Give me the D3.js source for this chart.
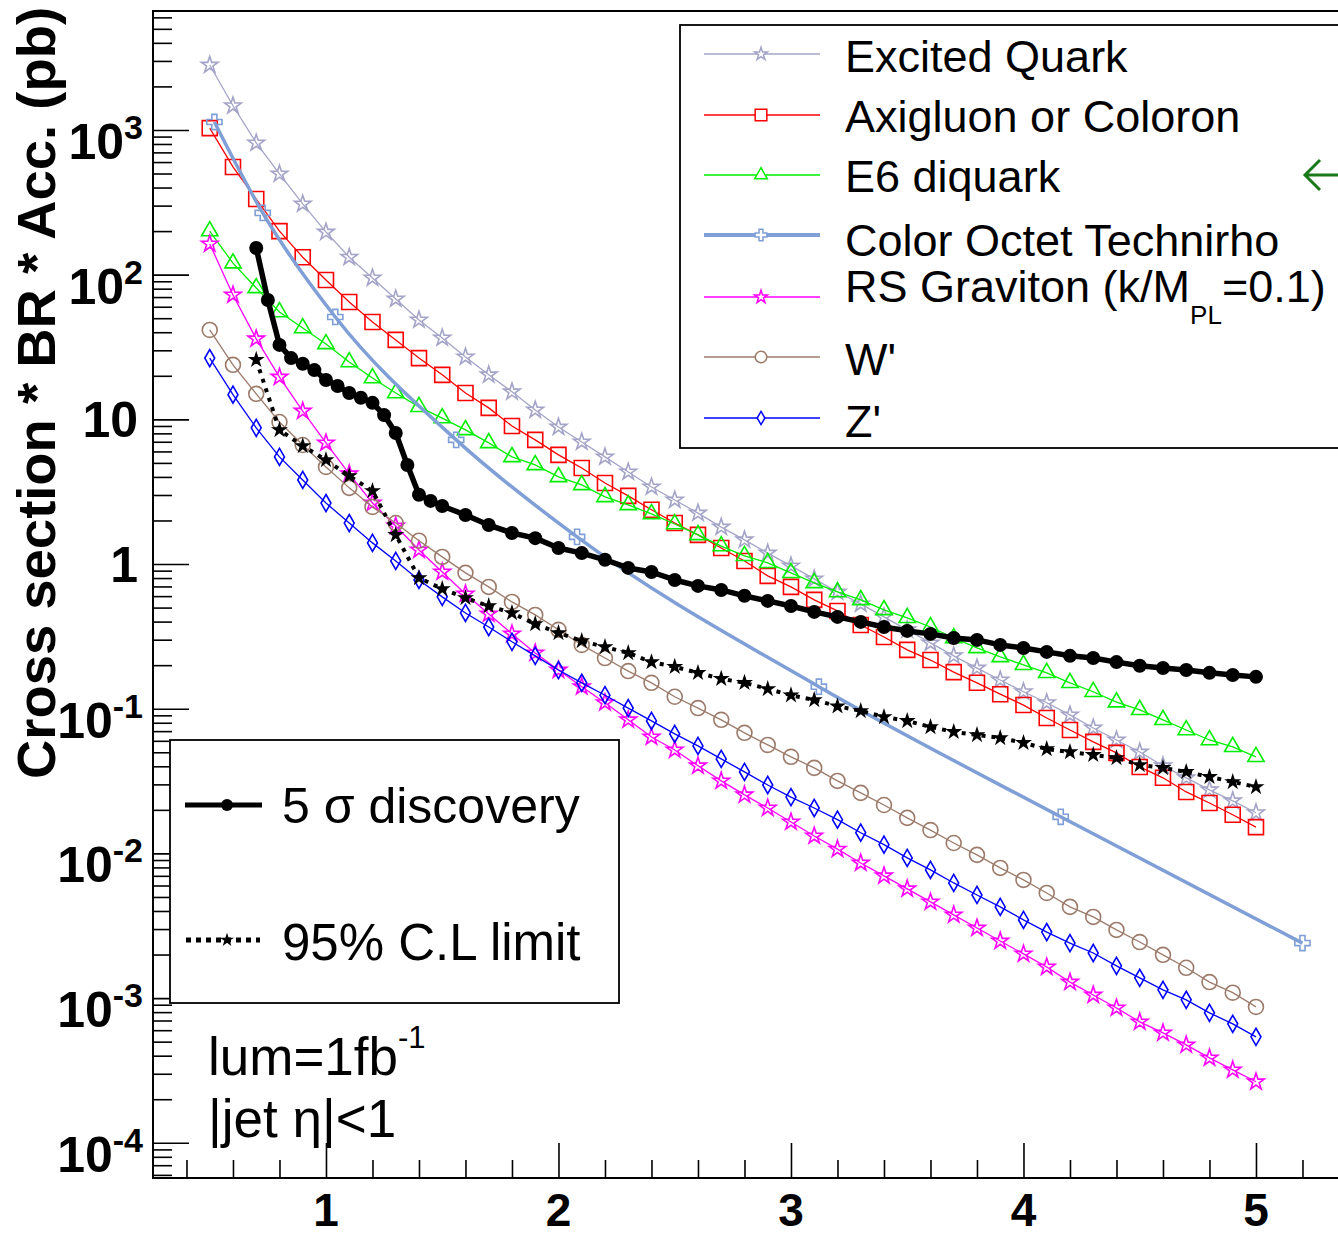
<!DOCTYPE html>
<html><head><meta charset="utf-8">
<script src="https://cdn.jsdelivr.net/npm/d3@7"></script>
<style>
body{margin:0;background:#fff}
svg{display:block}
text{font-family:"Liberation Sans",Arial,Helvetica,sans-serif}
</style>
</head><body>
<svg id="c" width="1338" height="1237"></svg>
<script>
// ---------------- data ----------------
const massGrid = [0.5,0.6,0.7,0.8,0.9,1.0,1.1,1.2,1.3,1.4,1.5,1.6,1.7,1.8,1.9,2.0,2.1,2.2,2.3,2.4,2.5,2.6,2.7,2.8,2.9,3.0,3.1,3.2,3.3,3.4,3.5,3.6,3.7,3.8,3.9,4.0,4.1,4.2,4.3,4.4,4.5,4.6,4.7,4.8,4.9,5.0];
const excitedQuark = [2810,1470,813,497,308,197,132,94.8,67.9,48.6,36.5,27.0,20.3,15.5,11.6,8.85,6.98,5.50,4.33,3.41,2.77,2.25,1.80,1.47,1.19,0.970,0.789,0.641,0.530,0.431,0.351,0.285,0.232,0.191,0.158,0.131,0.110,0.0906,0.0736,0.0608,0.0502,0.0403,0.0333,0.0275,0.0231,0.0191];
const axigluon = [1030,555,333,200,132,91.9,64.7,47.1,35.4,26.5,20.3,15.2,12.0,8.99,7.21,5.68,4.61,3.63,2.96,2.37,1.92,1.59,1.29,1.05,0.828,0.695,0.565,0.474,0.379,0.313,0.255,0.217,0.179,0.151,0.126,0.106,0.0863,0.0713,0.0590,0.0495,0.0396,0.0333,0.0266,0.0223,0.0185,0.0152];
const e6Diquark = [200,120,80.9,55.2,42.8,33.2,24.9,19.3,15.2,12.2,10.2,8.45,6.87,5.50,4.84,4.00,3.52,2.91,2.56,2.22,1.89,1.59,1.33,1.14,1.02,0.869,0.740,0.641,0.565,0.482,0.425,0.367,0.308,0.263,0.228,0.201,0.177,0.151,0.131,0.111,0.0982,0.0838,0.0713,0.0608,0.0545,0.0465];
const technirhoMass = [0.52,0.728,1.04,1.56,2.08,3.12,4.16,5.2];
const technirho = [1135,267,51.0,7.21,1.54,0.142,0.0179,0.00240];
const rsGraviton = [163,72.4,36.0,19.6,11.4,6.87,4.20,2.64,1.83,1.25,0.881,0.621,0.452,0.329,0.243,0.185,0.142,0.110,0.0838,0.0638,0.0519,0.0403,0.0317,0.0254,0.0206,0.0165,0.0132,0.0107,0.00859,0.00700,0.00569,0.00462,0.00376,0.00305,0.00248,0.00202,0.00164,0.00129,0.00105,0.000855,0.000685,0.000575,0.000475,0.000386,0.000319,0.000264];
const wPrime = [41.5,23.8,15.0,9.59,6.65,4.69,3.36,2.48,1.92,1.45,1.12,0.869,0.695,0.547,0.445,0.351,0.276,0.224,0.182,0.151,0.121,0.101,0.0838,0.0681,0.0562,0.0465,0.0390,0.0317,0.0262,0.0216,0.0176,0.0145,0.0118,0.00977,0.00794,0.00656,0.00533,0.00427,0.00364,0.00296,0.00244,0.00199,0.00162,0.00129,0.00109,0.000869];
const zPrime = [26.5,14.8,8.73,5.50,3.81,2.64,1.92,1.40,1.05,0.776,0.593,0.459,0.367,0.290,0.232,0.185,0.151,0.124,0.101,0.0824,0.0670,0.0553,0.0450,0.0366,0.0297,0.0245,0.0206,0.0171,0.0139,0.0115,0.00931,0.00769,0.00625,0.00516,0.00427,0.00347,0.00286,0.00240,0.00205,0.00167,0.00138,0.00114,0.000973,0.000791,0.000664,0.000540];
const discoveryMass = [0.70,0.75,0.80,0.85,0.90,0.95,1.00,1.05,1.10,1.15,1.20,1.25,1.30,1.35,1.40,1.45,1.50,1.6,1.7,1.8,1.9,2.0,2.1,2.2,2.3,2.4,2.5,2.6,2.7,2.8,2.9,3.0,3.1,3.2,3.3,3.4,3.5,3.6,3.7,3.8,3.9,4.0,4.1,4.2,4.3,4.4,4.5,4.6,4.7,4.8,4.9,5.0];
const discovery5sigma = [153,66.8,32.7,26.5,24.2,21.9,18.7,17.0,15.2,14.1,13.0,10.7,8.05,4.84,3.01,2.73,2.52,2.18,1.86,1.64,1.51,1.29,1.19,1.07,0.940,0.881,0.776,0.706,0.662,0.603,0.556,0.513,0.467,0.431,0.398,0.367,0.345,0.329,0.308,0.299,0.276,0.263,0.247,0.232,0.224,0.210,0.198,0.191,0.185,0.177,0.171,0.166];
const limitMass = [0.7,0.8,0.9,1.0,1.1,1.2,1.3,1.4,1.5,1.6,1.7,1.8,1.9,2.0,2.1,2.2,2.3,2.4,2.5,2.6,2.7,2.8,2.9,3.0,3.1,3.2,3.3,3.4,3.5,3.6,3.7,3.8,3.9,4.0,4.1,4.2,4.3,4.4,4.5,4.6,4.7,4.8,4.9,5.0];
const limit95 = [25.8,8.45,6.55,5.24,4.06,3.20,1.59,0.802,0.673,0.583,0.513,0.459,0.385,0.334,0.294,0.267,0.243,0.210,0.195,0.177,0.161,0.151,0.137,0.124,0.115,0.104,0.0966,0.0877,0.0824,0.0748,0.0692,0.0659,0.0628,0.0581,0.0527,0.0502,0.0480,0.0457,0.0409,0.0390,0.0366,0.0338,0.0312,0.0288];

const xTickValues = [1,2,3,4,5];
const xTickLabels = ["1","2","3","4","5"];
const yTickValues = [1e-4,1e-3,1e-2,1e-1,1,10,100,1000];
const yTickBase = ["10","10","10","10","1","10","10","10"];
const yTickExp  = ["-4","-3","-2","-1","","","2","3"];

// ---------------- layout ----------------
const svg = d3.select("#c");
const L = 153, T = 11, B = 1178, Rr = 1400;
const x = d3.scaleLinear().domain([0.256, 5.6]).range([L, L + (5.6 - 0.256) * 232.5]);
const y = d3.scaleLog().domain([5.71e-5, 6640]).range([B, T]);

svg.append("defs").append("clipPath").attr("id","plot")
  .append("rect").attr("x",L).attr("y",T).attr("width",Rr-L).attr("height",B-T);

// custom marker shapes
const diamondSym = {draw(ctx,size){const s=Math.sqrt(size);const h=s*0.62,w=s*0.36;
  ctx.moveTo(0,-h);ctx.lineTo(w,0);ctx.lineTo(0,h);ctx.lineTo(-w,0);ctx.closePath();}};
const crossSym = {draw(ctx,size){const s=Math.sqrt(size)/2,t=s/3;
  const p=[[-t,-s],[t,-s],[t,-t],[s,-t],[s,t],[t,t],[t,s],[-t,s],[-t,t],[-s,t],[-s,-t],[-t,-t]];
  ctx.moveTo(p[0][0],p[0][1]);for(let i=1;i<p.length;i++)ctx.lineTo(p[i][0],p[i][1]);ctx.closePath();}};

const series = [
  {name:"Excited Quark", xs:massGrid, ys:excitedQuark, color:"#a4a4c8", sym:d3.symbolStar, size:85, lw:1.3},
  {name:"Axigluon or Coloron", xs:massGrid, ys:axigluon, color:"#ff0000", sym:d3.symbolSquare, size:225, lw:1.3},
  {name:"E6 diquark", xs:massGrid, ys:e6Diquark, color:"#00ee00", sym:d3.symbolTriangle, size:115, lw:1.3},
  {name:"Color Octet Technirho", xs:technirhoMass, ys:technirho, color:"#7f9fd6", sym:crossSym, size:230, lw:3.5, smooth:true},
  {name:"RS Graviton", xs:massGrid, ys:rsGraviton, color:"#ff00ff", sym:d3.symbolStar, size:85, lw:1.3},
  {name:"W'", xs:massGrid, ys:wPrime, color:"#9c7b6b", sym:d3.symbolCircle, size:175, lw:1.3},
  {name:"Z'", xs:massGrid, ys:zPrime, color:"#0000ff", sym:diamondSym, size:190, lw:1.3}
];

// ---------------- axes ----------------
const gAx = svg.append("g");
const yMinor = [];
for (let e=-5;e<=3;e++) for (let m=2;m<=9;m++){const v=m*Math.pow(10,e); if(v>5.71e-5 && v<6640) yMinor.push(v);}
gAx.append("g").attr("transform",`translate(${L},0)`)
  .call(d3.axisLeft(y).tickValues(yMinor).tickSize(-19).tickFormat(""))
  .call(g=>g.select(".domain").remove());
gAx.append("g").attr("transform",`translate(${L},0)`)
  .call(d3.axisLeft(y).tickValues(yTickValues).tickSize(-36).tickFormat(""))
  .call(g=>g.select(".domain").remove());
const xMinor = [0.4,0.6,0.8,1.2,1.4,1.6,1.8,2.2,2.4,2.6,2.8,3.2,3.4,3.6,3.8,4.2,4.4,4.6,4.8,5.2,5.4];
gAx.append("g").attr("transform",`translate(0,${B})`)
  .call(d3.axisBottom(x).tickValues(xMinor).tickSize(-18).tickFormat(""))
  .call(g=>g.select(".domain").remove());
gAx.append("g").attr("transform",`translate(0,${B})`)
  .call(d3.axisBottom(x).tickValues(xTickValues).tickSize(-35).tickFormat(""))
  .call(g=>g.select(".domain").remove());
gAx.selectAll(".tick line").attr("stroke","#000").attr("stroke-width",1.6);

// frame
svg.append("rect").attr("x",L).attr("y",T).attr("width",Rr-L).attr("height",B-T)
  .attr("fill","none").attr("stroke","#000").attr("stroke-width",2);

// tick labels
xTickValues.forEach((v,i)=>{
  svg.append("text").attr("x",x(v)).attr("y",1226).attr("text-anchor","middle")
    .attr("font-size",46).attr("font-weight","bold").text(xTickLabels[i]);
});
yTickValues.forEach((v,i)=>{
  const yy=y(v);
  if (yTickExp[i]===""){
    svg.append("text").attr("x",138).attr("y",yy+18).attr("text-anchor","end")
      .attr("font-size",50).attr("font-weight","bold").text(yTickBase[i]);
  } else {
    const t=svg.append("text").attr("x",143).attr("y",yy+29).attr("text-anchor","end")
      .attr("font-size",50).attr("font-weight","bold");
    t.append("tspan").text(yTickBase[i]);
    t.append("tspan").attr("dy",-20).attr("font-size",34).text(yTickExp[i]);
  }
});

// y title
svg.append("text").attr("transform","translate(55,393) rotate(-90)")
  .attr("text-anchor","middle").attr("font-size",54).attr("font-weight","bold")
  .attr("textLength",772).attr("lengthAdjust","spacingAndGlyphs")
  .text("Cross section * BR * Acc. (pb)");

// ---------------- curves ----------------
const plot = svg.append("g").attr("clip-path","url(#plot)");
series.forEach(s=>{
  const pts = s.xs.map((m,i)=>[m,s.ys[i]]);
  const line = d3.line().x(d=>x(d[0])).y(d=>y(d[1]));
  if (s.smooth) line.curve(d3.curveMonotoneX);
  plot.append("path").attr("d",line(pts)).attr("fill","none")
    .attr("stroke",s.color).attr("stroke-width",s.lw);
  plot.selectAll(null).data(pts).enter().append("path")
    .attr("transform",d=>`translate(${x(d[0])},${y(d[1])})`)
    .attr("d",d3.symbol().type(s.sym).size(s.size)())
    .attr("fill","none").attr("stroke",s.color).attr("stroke-width",1.6);
});

// 5 sigma discovery
const discPts = discoveryMass.map((m,i)=>[m,discovery5sigma[i]]);
plot.append("path").attr("d",d3.line().x(d=>x(d[0])).y(d=>y(d[1]))(discPts))
  .attr("fill","none").attr("stroke","#000").attr("stroke-width",5.5).attr("stroke-linejoin","round");
plot.selectAll(null).data(discPts).enter().append("circle")
  .attr("cx",d=>x(d[0])).attr("cy",d=>y(d[1])).attr("r",7).attr("fill","#000");

// 95% CL limit
const limPts = limitMass.map((m,i)=>[m,limit95[i]]);
plot.append("path").attr("d",d3.line().x(d=>x(d[0])).y(d=>y(d[1]))(limPts))
  .attr("fill","none").attr("stroke","#000").attr("stroke-width",4).attr("stroke-dasharray","4,6");
plot.selectAll(null).data(limPts).enter().append("path")
  .attr("transform",d=>`translate(${x(d[0])},${y(d[1])})`)
  .attr("d",d3.symbol().type(d3.symbolStar).size(90)()).attr("fill","#000");

// ---------------- legend 1 ----------------
const lg1 = svg.append("g");
lg1.append("rect").attr("x",680).attr("y",25).attr("width",700).attr("height",423)
  .attr("fill","#fff").attr("stroke","#000").attr("stroke-width",1.8);
const rowLineY = [54,115,175,235,297,357,418];
const rowTextY = [72,132,192,256,302,375,437];
series.forEach((s,i)=>{
  lg1.append("line").attr("x1",704).attr("x2",820).attr("y1",rowLineY[i]).attr("y2",rowLineY[i])
    .attr("stroke",s.color).attr("stroke-width",s.lw+0.4);
  lg1.append("path").attr("transform",`translate(761,${rowLineY[i]})`)
    .attr("d",d3.symbol().type(s.sym).size(s.size*0.6)())
    .attr("fill","#fff").attr("stroke",s.color).attr("stroke-width",1.5);
  const t = lg1.append("text").attr("x",845).attr("y",rowTextY[i]).attr("font-size",45);
  if (s.name==="RS Graviton"){
    t.append("tspan").text("RS Graviton (k/M");
    t.append("tspan").attr("dy",22).attr("font-size",26).text("PL");
    t.append("tspan").attr("dy",-22).text("=0.1)");
  } else t.text(s.name);
});
// green arrow annotation
svg.append("path").attr("d","M1338,175 L1306,175 M1320,160 L1305,175 L1320,190")
  .attr("fill","none").attr("stroke","#1a7a1a").attr("stroke-width",3);

// ---------------- legend 2 ----------------
const lg2 = svg.append("g");
lg2.append("rect").attr("x",170).attr("y",740).attr("width",449).attr("height",263)
  .attr("fill","#fff").attr("stroke","#000").attr("stroke-width",1.8);
lg2.append("line").attr("x1",185).attr("x2",262).attr("y1",805).attr("y2",805)
  .attr("stroke","#000").attr("stroke-width",5);
lg2.append("circle").attr("cx",227).attr("cy",805).attr("r",6).attr("fill","#000");
lg2.append("text").attr("x",282).attr("y",823).attr("font-size",50).text("5 σ discovery");
lg2.append("line").attr("x1",186).attr("x2",260).attr("y1",940).attr("y2",940)
  .attr("stroke","#000").attr("stroke-width",5).attr("stroke-dasharray","5,5");
lg2.append("path").attr("transform","translate(227,940)")
  .attr("d",d3.symbol().type(d3.symbolStar).size(60)()).attr("fill","#000");
lg2.append("text").attr("x",282).attr("y",960).attr("font-size",51).text("95% C.L limit");

// ---------------- annotations ----------------
const lum = svg.append("text").attr("x",208).attr("y",1075).attr("font-size",53);
lum.append("tspan").text("lum=1fb");
lum.append("tspan").attr("dy",-27).attr("font-size",31).text("-1");
svg.append("text").attr("x",208).attr("y",1137).attr("font-size",53).text("|jet η|<1");
</script>
</body></html>
